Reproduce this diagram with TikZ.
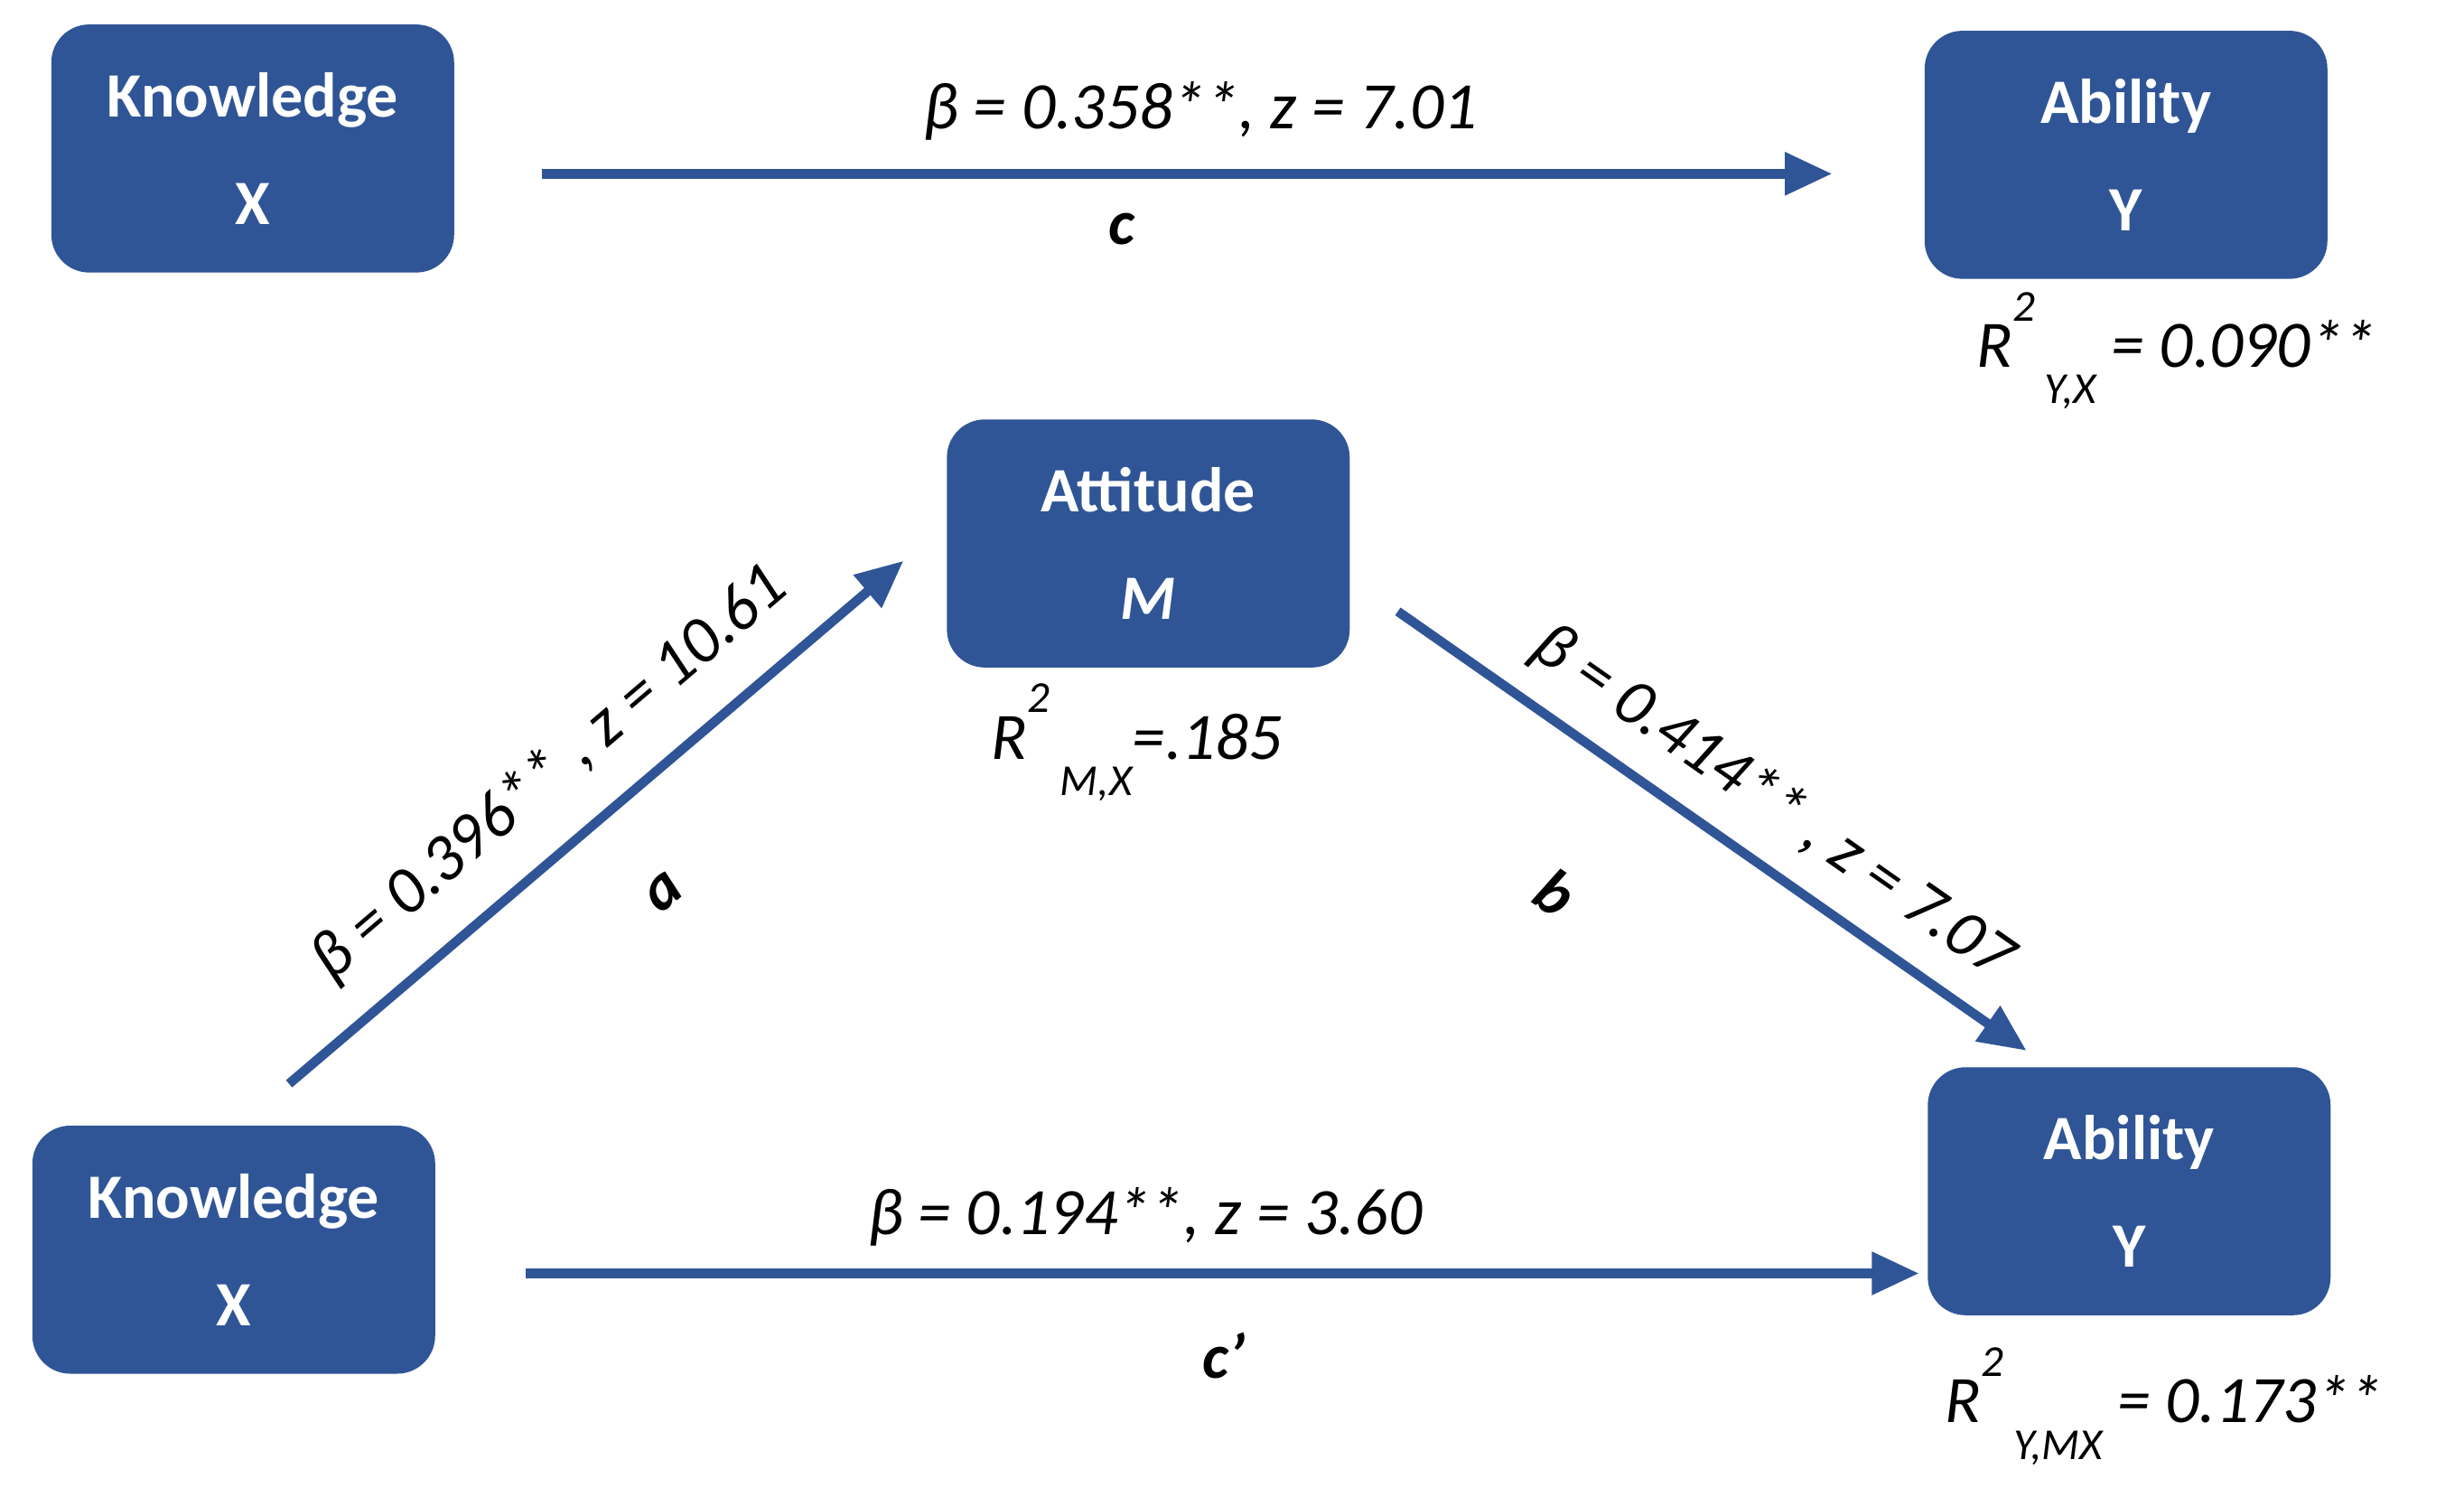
\documentclass[tikz,border=0pt]{standalone}
\usepackage{fontspec}
\setmainfont{Carlito}
\usetikzlibrary{arrows.meta}
\definecolor{bx}{HTML}{2F5597}
\begin{document}
\begin{tikzpicture}[x=1pt,y=-1pt,
 box/.style={fill=bx,rounded corners=24pt,minimum width=255pt,minimum height=157pt,inner sep=0pt,text=white,font=\fontsize{40}{44}\selectfont\bfseries,align=center},
 arr/.style={draw=bx,line width=6pt,-{Triangle[length=30pt,width=26pt]}},
 lab/.style={font=\fontsize{42}{44}\selectfont\itshape,inner sep=0pt},
 ltr/.style={font=\fontsize{40}{44}\selectfont\bfseries\itshape,inner sep=0pt},
 sm/.style={}]
\newcommand{\supsub}[2]{\raisebox{0.7em}{\fontsize{28}{30}\selectfont #1}\raisebox{-0.55em}{\fontsize{28}{30}\selectfont\ #2}}
\useasboundingbox (0,0) rectangle (1560,947);
\node[box] (kx1) at (160,94) {Knowledge\\[24pt]X};
\node[box] (ay1) at (1346,98) {Ability\\[24pt]Y};
\node[box] (am) at (727,344) {Attitude\\[24pt]\textit{M}};
\node[box] (kx2) at (148,791) {Knowledge\\[24pt]X};
\node[box] (ay2) at (1348,754) {Ability\\[24pt]Y};
\coordinate (c1s) at (343,110); \coordinate (c1e) at (1160,110);
\coordinate (as) at (183,686); \coordinate (ae) at (572,355);
\coordinate (bs) at (885,387); \coordinate (be) at (1283,665);
\coordinate (c2s) at (333,806); \coordinate (c2e) at (1215,806);
\draw[arr] (c1s) -- (c1e);
\draw[arr] (as) -- (ae);
\draw[arr] (bs) -- (be);
\draw[arr] (c2s) -- (c2e);
\node[lab] (l1) at (760,70) {β = 0.358**, z = 7.01};
\node[ltr] (lc) at (710,145) {c};
\node[lab,rotate=40.4] (la) at (348,490) {β = 0.396** , z = 10.61};
\node[ltr,rotate=40] (lla) at (420,565) {a};
\node[lab,rotate=-35] (lb) at (1122,508) {β = 0.414** , z = 7.07};
\node[ltr,rotate=-35] (llb) at (985,565) {b};
\node[lab] (l2) at (725,770) {β = 0.194**, z = 3.60};
\node[ltr] (lc2) at (775,858) {c’};
\node[lab] (r1) at (1378,222) {R\supsub{2}{Y,X} = 0.090**};
\node[lab] (r2) at (720,470) {R\supsub{2}{M,X}=.185};
\node[lab] (r3) at (1370,890) {R\supsub{2}{Y,MX} = 0.173**};
\end{tikzpicture}
\end{document}
